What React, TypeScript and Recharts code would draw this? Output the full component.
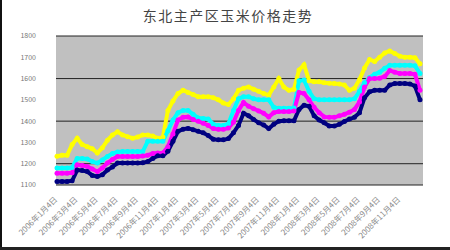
import React from 'react';
import { LineChart, Line, XAxis, YAxis, CartesianGrid } from 'recharts';

// 东北主产区玉米价格走势 (元/吨)
const tickLabels = [
  '2006年1月4日', '2006年3月4日', '2006年5月4日', '2006年7月4日', '2006年9月4日', '2006年11月4日',
  '2007年1月4日', '2007年3月4日', '2007年5月4日', '2007年7月4日', '2007年9月4日', '2007年11月4日',
  '2008年1月4日', '2008年3月4日', '2008年5月4日', '2008年7月4日', '2008年9月4日', '2008年11月4日',
];

const yellowSeries = [
  1235, 1240, 1240, 1290, 1320, 1290, 1280, 1270, 1250, 1275, 1310, 1335, 1350, 1335, 1327, 1320,
  1325, 1335, 1335, 1330, 1320, 1325, 1450, 1495, 1530, 1545, 1535, 1525, 1515, 1515, 1515, 1510,
  1500, 1485, 1478, 1505, 1545, 1555, 1560, 1550, 1540, 1530, 1522, 1560, 1600, 1560, 1545, 1550,
  1640, 1665, 1590, 1585, 1585, 1580, 1578, 1577, 1575, 1570, 1545, 1555, 1595, 1650, 1690, 1680,
  1700, 1720, 1730, 1718, 1705, 1700, 1700, 1698, 1670,
];

const cyanSeries = [
  1180, 1180, 1180, 1182, 1225, 1225, 1222, 1210, 1203, 1218, 1234, 1248, 1255, 1257, 1257, 1257,
  1257, 1257, 1305, 1305, 1305, 1305, 1355, 1405, 1440, 1450, 1450, 1432, 1415, 1413, 1410, 1385,
  1380, 1380, 1388, 1450, 1505, 1515, 1515, 1505, 1500, 1500, 1500, 1465, 1460, 1460, 1460, 1462,
  1590, 1593, 1540, 1505, 1500, 1500, 1500, 1500, 1500, 1500, 1500, 1505, 1540, 1580, 1605, 1620,
  1630, 1648, 1662, 1663, 1663, 1663, 1663, 1660, 1624,
];

const magentaSeries = [
  1155, 1155, 1155, 1158, 1195, 1192, 1187, 1175, 1163, 1180, 1203, 1220, 1234, 1234, 1234, 1234,
  1234, 1236, 1240, 1248, 1250, 1250, 1280, 1340, 1405, 1418, 1420, 1408, 1400, 1390, 1380, 1365,
  1362, 1362, 1368, 1395, 1450, 1488, 1470, 1458, 1448, 1437, 1420, 1440, 1445, 1445, 1445, 1448,
  1535, 1530, 1500, 1465, 1440, 1420, 1418, 1418, 1425, 1432, 1442, 1455, 1490, 1560, 1600, 1600,
  1602, 1610, 1638, 1630, 1624, 1624, 1624, 1620, 1545,
];

const navySeries = [
  1117, 1117, 1117, 1120, 1170, 1168, 1163, 1145, 1140, 1148, 1170, 1185, 1203, 1203, 1203, 1203,
  1203, 1205, 1210, 1225, 1237, 1237, 1258, 1305, 1352, 1362, 1366, 1360, 1352, 1345, 1332, 1315,
  1312, 1312, 1318, 1345, 1380, 1437, 1425, 1408, 1392, 1382, 1365, 1385, 1400, 1402, 1402, 1402,
  1455, 1475, 1470, 1425, 1405, 1392, 1377, 1377, 1385, 1398, 1410, 1418, 1440, 1510, 1538, 1545,
  1545, 1545, 1570, 1577, 1577, 1577, 1575, 1565, 1500,
];

const yTicks = [1100, 1200, 1300, 1400, 1500, 1600, 1700, 1800];

const data = yellowSeries.map((v, i) => ({
  i,
  yellow: v,
  cyan: cyanSeries[i],
  magenta: magentaSeries[i],
  navy: navySeries[i],
}));

const xTicks = tickLabels.map((_, k) => k * 4);

const series = [
  { key: 'yellow', color: '#ffff00' },
  { key: 'cyan', color: '#00ffff' },
  { key: 'magenta', color: '#ff00ff' },
  { key: 'navy', color: '#000080' },
];

const App: React.FC = () => {
  return (
    <div
      style={{
        position: 'absolute',
        left: 0,
        top: 0,
        width: 450,
        height: 250,
        background: '#fff',
        overflow: 'hidden',
        fontFamily: '"Noto Sans CJK SC", sans-serif',
      }}
    >
      <div
        style={{
          position: 'absolute',
          left: 0,
          top: 5,
          width: 456,
          textAlign: 'center',
          fontSize: 14,
          color: '#444',
          letterSpacing: 1.5,
        }}
      >
        东北主产区玉米价格走势
      </div>
      <LineChart width={450} height={250} data={data} margin={{ top: 36, right: 27, left: 0, bottom: 0 }}>
        <CartesianGrid vertical={false} stroke="#222" fill="#c0c0c0" fillOpacity={1} />
        <XAxis
          type="number"
          dataKey="i"
          domain={[0, 72]}
          ticks={xTicks}
          interval={0}
          tickFormatter={(v: number) => tickLabels[v / 4]}
          padding={{ left: 1, right: 3 }}
          height={65}
          angle={-45}
          textAnchor="end"
          tickLine={false}
          axisLine={false}
          tickMargin={5}
          tick={{ fontSize: 8, fill: '#8a8a8a', dx: -3 }}
        />
        <YAxis
          domain={[1100, 1800]}
          ticks={yTicks}
          width={56}
          tickLine={false}
          axisLine={false}
          tickMargin={14}
          tick={{ fontSize: 7, fill: '#777' }}
        />
        {series.map((s) => (
          <Line
            key={s.key}
            dataKey={s.key}
            stroke={s.color}
            strokeWidth={4}
            dot={{ r: 2.5, fill: s.color, stroke: s.color, strokeWidth: 0 }}
            type="linear"
            isAnimationActive={false}
          />
        ))}
      </LineChart>
      <div style={{ position: 'absolute', left: 0, top: 0, width: 2, height: 250, background: '#111' }} />
      <div style={{ position: 'absolute', left: 0, top: 247, width: 450, height: 3, background: '#222' }} />
    </div>
  );
};

export default App;
